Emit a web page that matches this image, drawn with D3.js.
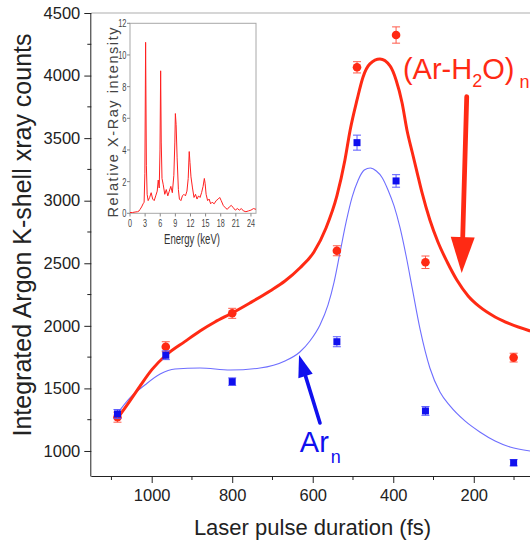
<!DOCTYPE html>
<html><head><meta charset="utf-8">
<script src="https://cdn.jsdelivr.net/npm/d3@7"></script>
<style>
body{margin:0;background:#fff}
svg{display:block;font-family:"Liberation Sans",Arial,Helvetica,sans-serif}
</style>
</head><body>
<svg id="c" width="530" height="542"></svg>
<script>
// ---- data ----
const durations = [1085, 965, 800, 540, 490, 393, 320, 101];
const arH2O     = [1270, 1833, 2100, 2600, 4066, 4324, 2508, 1746];
const arH2OErr  = [40, 40, 40, 40, 45, 65, 50, 35];
const arN       = [1296, 1765, 1554, 1873, 3464, 3158, 1320, 906];
const arNErr    = [35, 35, 30, 40, 60, 50, 35, 25];

// fitted curves (duration fs, counts)
const fitH2OX = [1086,1061,1029,999,964,917,880,843,800,756,706,669,632,597,567,540,520,507,490,475,458,433,408,393,378,366,353,341,329,309,289,266,242,214,185,147,110,60];
const fitH2OY = [1256,1368,1519,1652,1767,1876,1959,2031,2103,2183,2279,2358,2462,2590,2782,3038,3325,3565,3805,3989,4093,4132,4077,3965,3781,3565,3389,3229,3070,2846,2670,2510,2366,2239,2151,2071,2015,1959];
const fitArX = [1086,1054,1017,979,942,880,805,731,669,632,607,582,562,547,532,517,502,487,472,457,442,427,413,398,383,368,353,333,309,284,259,222,185,147,110,60];
const fitArY = [1296,1424,1527,1615,1655,1663,1647,1663,1719,1791,1879,2007,2167,2350,2590,2830,3030,3166,3245,3261,3237,3182,3086,2958,2782,2558,2303,1967,1663,1471,1360,1240,1152,1080,1032,1000];

const xTicks = [1000, 800, 600, 400, 200];
const xMinor = [1100, 900, 700, 500, 300, 100];
const yTicks = [1000, 1500, 2000, 2500, 3000, 3500, 4000, 4500];
const yMinor = [1250, 1750, 2250, 2750, 3250, 3750, 4250];

// inset spectrum (keV, relative intensity)
const specE = [0,0.5,1.0,1.5,1.8,2.0,2.3,2.6,2.8,2.95,3.1,3.25,3.4,3.6,3.9,4.2,4.5,4.8,5.1,5.4,5.6,5.8,5.95,6.08,6.2,6.35,6.6,6.9,7.2,7.5,7.8,8.1,8.4,8.7,8.9,9.0,9.15,9.35,9.6,9.8,10.1,10.4,10.7,11.0,11.3,11.55,11.75,11.9,12.1,12.4,12.7,13.0,13.3,13.6,13.9,14.2,14.5,14.75,14.9,15.1,15.4,15.7,16.0,16.3,16.7,17.1,17.5,17.8,18.1,18.5,18.9,19.3,19.7,20.1,20.5,20.9,21.3,21.7,22.1,22.5,23.0,23.5,24.0,24.5,25.0];
const specI = [0.05,0.05,0.08,0.1,0.15,0.25,0.4,0.6,0.7,2.5,10.8,3.0,1.2,0.8,1.0,1.3,0.9,0.8,1.1,1.4,2.1,1.6,4.0,9.0,4.5,2.2,1.8,1.2,1.5,1.1,1.4,1.7,1.3,2.4,4.5,6.3,5.6,3.5,1.5,0.9,0.8,1.1,1.2,1.1,1.4,2.2,3.9,3.2,2.3,1.6,1.0,1.2,0.9,1.1,1.0,1.3,1.7,2.2,1.9,1.2,0.8,0.9,0.6,0.7,0.6,0.8,0.9,1.0,0.8,0.5,0.35,0.25,0.4,0.5,0.35,0.2,0.3,0.2,0.3,0.15,0.1,0.15,0.2,0.3,0.25];
const insetXTicks = [0,3,6,9,12,15,18,21,24];
const insetYTicks = [0,2,4,6,8,10,12];

const RED = "#ff2a14", BLUE = "#1010ee", BLUE_FIT = "#6e6eff";

// ---- scales ----
const svg = d3.select("#c");
const L = 91.3, T = 13, B = 476;
const x = d3.scaleLinear().domain([1150, 0]).range([L, L + 1150 * 0.4026]);
const y = d3.scaleLinear().domain([800, 4500]).range([B, T]);

svg.append("defs").append("clipPath").attr("id","plotclip")
  .append("rect").attr("x", L).attr("y", T).attr("width", 530 - L).attr("height", B - T);

// top frame
svg.append("line").attr("x1", L).attr("x2", 530).attr("y1", T).attr("y2", T)
  .attr("stroke", "#c8c8c8").attr("stroke-width", 1.5);

// axes
const xAxis = d3.axisBottom(x).tickValues(xTicks).tickSize(7).tickPadding(6).tickFormat(d3.format("d"));
const gx = svg.append("g").attr("transform", `translate(0,${B})`).call(xAxis);
gx.select(".domain").attr("d", `M${L},0.5H540`).attr("stroke","#222");
gx.selectAll(".tick line").attr("stroke","#222");
gx.selectAll("text").attr("font-size", 16.5).attr("fill","#222").attr("font-family","Liberation Sans, Arial, sans-serif");
svg.append("g").attr("transform", `translate(0,${B})`).selectAll("line").data(xMinor).join("line")
  .attr("x1", d => x(d)).attr("x2", d => x(d)).attr("y1", 0).attr("y2", 4).attr("stroke","#222");

const yAxis = d3.axisLeft(y).tickValues(yTicks).tickSize(7).tickPadding(4).tickFormat(d3.format("d"));
const gy = svg.append("g").attr("transform", `translate(${L},0)`).call(yAxis);
gy.select(".domain").attr("d", `M-0.5,${T}V${B+0.5}`).attr("stroke","#222");
gy.selectAll(".tick line").attr("stroke","#222");
gy.selectAll("text").attr("font-size", 16.5).attr("fill","#222").attr("font-family","Liberation Sans, Arial, sans-serif");
svg.append("g").attr("transform", `translate(${L},0)`).selectAll("line").data(yMinor).join("line")
  .attr("x1", -4).attr("x2", 0).attr("y1", d => y(d)).attr("y2", d => y(d)).attr("stroke","#222");

// axis titles
svg.append("text").attr("x", (195+430)/2).attr("y", 535).attr("text-anchor","middle")
  .attr("font-size", 22).attr("fill","#222").text("Laser pulse duration (fs)");
svg.append("text").attr("transform", "translate(31,235) rotate(-90)").attr("text-anchor","middle")
  .attr("font-size", 25).attr("fill","#222").text("Integrated Argon K-shell xray counts");

// fits
const plot = svg.append("g").attr("clip-path","url(#plotclip)");
const line = d3.line().x(d => x(d[0])).y(d => y(d[1])).curve(d3.curveMonotoneX);
plot.append("path").datum(d3.zip(fitArX, fitArY)).attr("d", line)
  .attr("fill","none").attr("stroke", BLUE_FIT).attr("stroke-width", 1.1);
plot.append("path").datum(d3.zip(fitH2OX, fitH2OY)).attr("d", line)
  .attr("fill","none").attr("stroke", RED).attr("stroke-width", 3);

// error bars + markers
function errBars(vals, errs, color) {
  const g = plot.append("g").attr("stroke", color).attr("stroke-width", 1);
  durations.forEach((d, i) => {
    const cx = x(d), y1 = y(vals[i] - errs[i]), y2 = y(vals[i] + errs[i]);
    g.append("line").attr("x1", cx).attr("x2", cx).attr("y1", y1).attr("y2", y2);
    g.append("line").attr("x1", cx - 4).attr("x2", cx + 4).attr("y1", y1).attr("y2", y1);
    g.append("line").attr("x1", cx - 4).attr("x2", cx + 4).attr("y1", y2).attr("y2", y2);
  });
}
errBars(arH2O, arH2OErr, "#ff5a4a");
plot.append("g").selectAll("circle").data(d3.zip(durations, arH2O)).join("circle")
  .attr("cx", d => x(d[0])).attr("cy", d => y(d[1])).attr("r", 4.3).attr("fill", RED);
errBars(arN, arNErr, "#5a5aff");
plot.append("g").selectAll("rect").data(d3.zip(durations, arN)).join("rect")
  .attr("x", d => x(d[0]) - 3.5).attr("y", d => y(d[1]) - 3.5).attr("width", 7).attr("height", 7).attr("fill", BLUE);

// arrows
function arrow(from, to, color, shaftW, headL, headW) {
  const x1 = x(from[0]), y1 = y(from[1]), x2 = x(to[0]), y2 = y(to[1]);
  const dx = x2 - x1, dy = y2 - y1, len = Math.hypot(dx, dy), ux = dx/len, uy = dy/len;
  const bx = x2 - ux*headL, by = y2 - uy*headL;
  svg.append("line").attr("x1", x1).attr("y1", y1).attr("x2", bx + ux*2).attr("y2", by + uy*2)
    .attr("stroke", color).attr("stroke-width", shaftW).attr("stroke-linecap","round");
  svg.append("path").attr("d", `M${x2},${y2}L${bx - uy*headW},${by + ux*headW}L${bx + uy*headW},${by - ux*headW}Z`)
    .attr("fill", color);
}
const redArrowFrom = [217.5, 3831], redArrowTo = [230, 2422];
const blueArrowFrom = [582, 1224], blueArrowTo = [634, 1767];
arrow(redArrowFrom, redArrowTo, RED, 4.8, 36, 12);
arrow(blueArrowFrom, blueArrowTo, BLUE, 3.6, 22, 7.5);

// labels
const t1 = svg.append("text").attr("x", x(376)).attr("y", y(3975)).attr("fill", RED).attr("font-size", 29);
t1.append("tspan").text("(Ar-H");
t1.append("tspan").attr("font-size", 18).attr("dy", 8).text("2");
t1.append("tspan").attr("dy", -8).text("O)");
t1.append("tspan").attr("font-size", 18).attr("dy", 9).attr("dx", 5).text("n");

const t2 = svg.append("text").attr("x", x(632)).attr("y", y(995)).attr("fill", BLUE).attr("font-size", 29);
t2.append("tspan").text("Ar");
t2.append("tspan").attr("font-size", 18).attr("dy", 11).attr("dx", 2).text("n");

// ---- inset ----
const ix = d3.scaleLinear().domain([0, 25]).range([130, 256]);
const iy = d3.scaleLinear().domain([0, 12]).range([213.3, 23.3]);
const ins = svg.append("g");
ins.append("rect").attr("x", 130).attr("y", 23.3).attr("width", 126).attr("height", 190)
  .attr("fill","#fff").attr("stroke","#a8a8a8").attr("stroke-width", 1);
ins.selectAll(".xt").data(insetXTicks).join("line")
  .attr("x1", d => ix(d)).attr("x2", d => ix(d)).attr("y1", 213.3).attr("y2", 216.5).attr("stroke","#888");
ins.selectAll(".yt").data(insetYTicks).join("line")
  .attr("x1", 127).attr("x2", 130).attr("y1", d => iy(d)).attr("y2", d => iy(d)).attr("stroke","#888");
ins.append("path").datum(d3.zip(specE, specI))
  .attr("d", d3.line().x(d => ix(d[0])).y(d => iy(d[1])))
  .attr("fill","none").attr("stroke","#ff2020").attr("stroke-width", 1);
insetXTicks.forEach(v => {
  ins.append("text").attr("transform", `translate(${ix(v)},226.5) scale(1,1.4)`)
    .attr("text-anchor","middle").attr("font-size", 7.2).attr("fill","#444").text(v);
});
insetYTicks.forEach(v => {
  ins.append("text").attr("transform", `translate(126.5,${iy(v)+4}) scale(1,1.45)`)
    .attr("text-anchor","end").attr("font-size", 7.5).attr("fill","#444").text(v);
});
ins.append("text").attr("transform", "translate(192,243.5) scale(1,1.45)").attr("text-anchor","middle")
  .attr("font-size", 9.6).attr("fill","#333").text("Energy (keV)");
ins.append("text").attr("transform", "translate(118,122.5) rotate(-90)")
  .attr("text-anchor","middle").attr("font-size", 14.5).attr("fill","#444")
  .attr("textLength", 190).attr("lengthAdjust","spacing").text("Relative X-Ray intensity");
</script>
</body></html>
